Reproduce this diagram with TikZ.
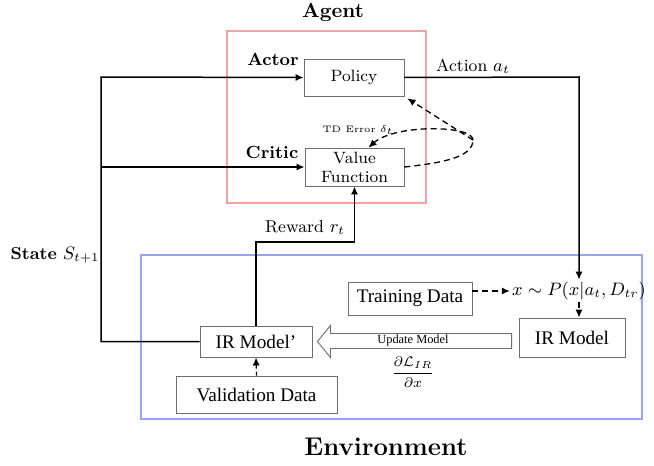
\documentclass[tikz,border=0pt]{standalone}
\usepackage{fontspec}
\newfontfamily\tms{Liberation Serif}
\usetikzlibrary{arrows.meta,calc}
\definecolor{agentred}{RGB}{246,160,160}
\definecolor{envblue}{RGB}{150,165,252}
\definecolor{boxgray}{RGB}{110,110,110}
\tikzset{
  cmbox/.style={draw=boxgray,line width=0.45pt,inner sep=0pt,align=center,font=\fontsize{8.2}{9.5}\selectfont},
  tmbox/.style={draw=boxgray,line width=0.45pt,inner sep=0pt,align=center,font=\tms\fontsize{9.6}{11}\selectfont},
  conn/.style={line width=0.75pt,-{Latex[length=4pt,width=3.6pt]}},
  dconn/.style={line width=0.65pt,dashed,dash pattern=on 3pt off 2pt,-{Latex[length=4pt,width=3.6pt]}},
  lbl/.style={inner sep=0pt,font=\fontsize{8.6}{10}\selectfont},
  blbl/.style={inner sep=0pt,font=\bfseries\fontsize{8.8}{10}\selectfont},
}
\begin{document}
\begin{tikzpicture}[x=0.5pt,y=-0.5pt]
\useasboundingbox (0,0) rectangle (654,466);
% containers
\draw[draw=agentred,line width=0.6pt] (227,31) rectangle (426,203);
\draw[draw=envblue,line width=0.6pt] (141,255) rectangle (642,419);
\node[inner sep=0pt,font=\bfseries\fontsize{10.2}{12}\selectfont] (agentt) at (333,12) {Agent};
\node[inner sep=0pt,font=\bfseries\fontsize{12.8}{15}\selectfont] (envt) at (386,447) {Environment};
% agent nodes
\node[cmbox,minimum width=50pt,minimum height=18.5pt] (policy) at (354,77.5) {Policy};
\node[cmbox,minimum width=49.5pt,minimum height=19pt] (vf) at (354.5,167) {Value\\Function};
\node[blbl] (actor) at (273,59) {Actor};
\node[blbl] (critic) at (272,152) {Critic};
% environment nodes
\node[tmbox,minimum width=53pt,minimum height=19.5pt] (irm) at (572,337.5) {IR Model};
\node[tmbox,minimum width=62pt,minimum height=16.5pt] (train) at (410,298.5) {Training Data};
\node[tmbox,minimum width=56pt,minimum height=15.5pt] (irmp) at (256,341.5) {IR Model’};
\node[tmbox,minimum width=80.5pt,minimum height=18.5pt] (val) at (256.5,394.5) {Validation Data};
\node[inner sep=1pt,font=\fontsize{8.6}{10}\selectfont] (ptext) at (579,291) {$x\sim P(x|a_t,D_{tr})$};
% action
\coordinate (ac) at (579,77);
\draw[conn] (policy.east) -- (ac) -- (ptext.north);
\node[lbl] (actl) at (473,66) {Action $a_t$};
\draw[dconn] (ptext.south) -- (ptext.south |- irm.north);
\draw[dconn] (train.east |- ptext) -- (ptext.west);
% reward
\coordinate (rwc) at (300,242);
\draw[conn] (irmp.north) |- (rwc) -| (vf.south);
\node[lbl] (rwl) at (305,228) {Reward $r_t$};
% state
\coordinate (sc) at (101,77);
\coordinate (sc2) at (101,167);
\draw[conn] (irmp.west) -| (sc) -- (policy.west);
\draw[conn] (sc2) -- (vf.west);
\node[lbl] (stl) at (55,255) {\textbf{State} $S_{t+1}$};
% validation
\draw[line width=0.6pt,dashed,dash pattern=on 2pt off 1.5pt,-{Latex[length=4pt,width=3.6pt]}] (val.north) -- (irmp.south);
% update arrow
\coordinate (ur) at ($(irm.west |- irmp.east)+(-7,0)$);
\coordinate (ul) at ($(irmp.east)+(5,0)$);
\draw[boxgray,line width=0.45pt,fill=white]
  ($(ur)+(0,-8)$) -- ($(ul)+(13,-8)$) -- ($(ul)+(13,-16)$) -- (ul)
  -- ($(ul)+(13,16)$) -- ($(ul)+(13,7)$) -- ($(ur)+(0,7)$) -- cycle;
\node[inner sep=0pt,font=\tms\fontsize{6.2}{7}\selectfont] (updl) at (413,341) {Update Model};
\node[inner sep=0pt,font=\fontsize{7.4}{9}\selectfont] (grad) at (413,372) {$\displaystyle\frac{\partial\mathcal{L}_{IR}}{\partial x}$};
% TD error
\coordinate (td) at (473,140);
\draw[line width=0.65pt,dashed,dash pattern=on 3pt off 2pt] (vf.east) .. controls (440,163) and (473,158) .. (td);
\draw[dconn] (td) .. controls (473,125) and (395,124) .. ($(vf.north)+(14,0)$);
\draw[dconn] (td) -- ($(policy.south east)+(3,2)$);
\node[inner sep=0pt,font=\fontsize{4.7}{6}\selectfont] (tdl) at (358,130) {TD Error $\delta_t$};
\end{tikzpicture}
\end{document}
